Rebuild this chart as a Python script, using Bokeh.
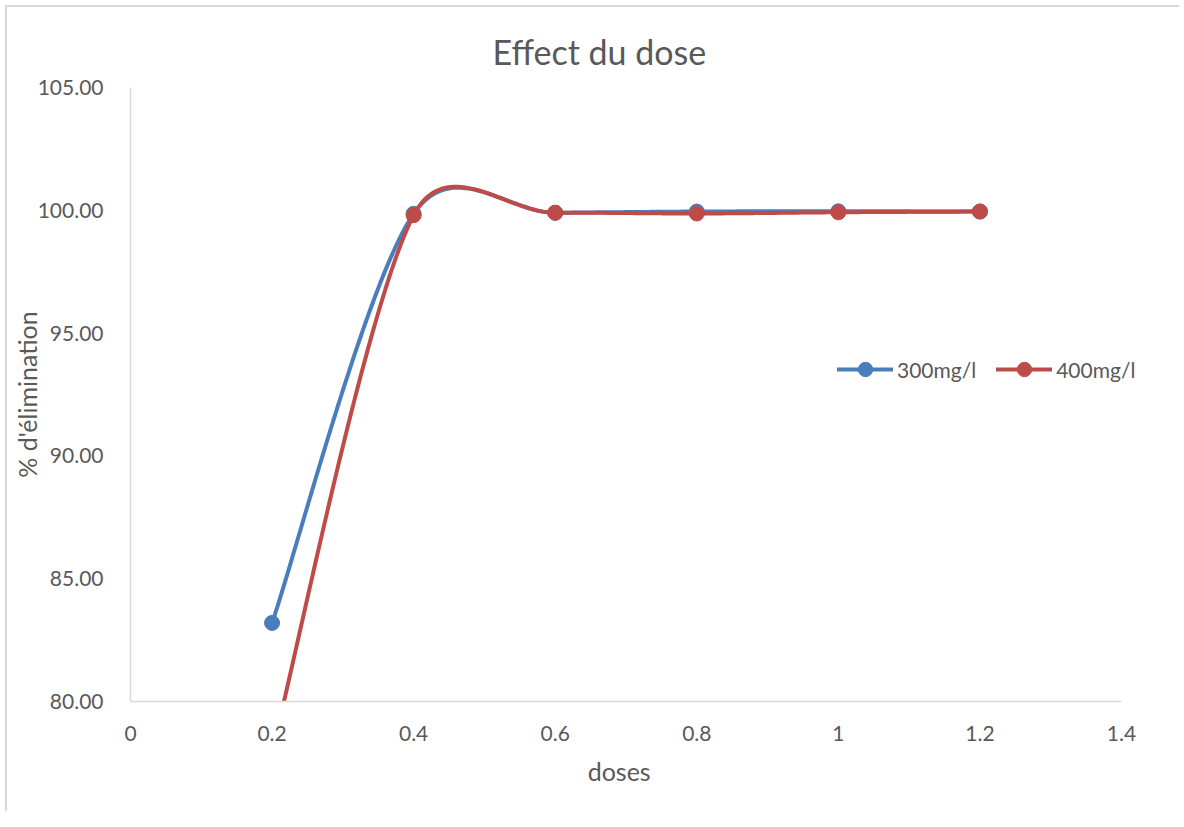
import numpy as np
from bokeh.plotting import figure
from bokeh.models import (Legend, LegendItem, SingleIntervalTicker, CustomJSTickFormatter,
                          NumeralTickFormatter)
from bokeh.embed import file_html
from bokeh.resources import INLINE

# ---- data ----
doses = [0.2, 0.4, 0.6, 0.8, 1.0, 1.2]
s300 = [83.2, 99.86, 99.9, 99.95, 99.96, 99.95]
s400 = [78.0, 99.80, 99.9, 99.87, 99.92, 99.95]
series_names = ["300mg/l", "400mg/l"]
colors = ["#4A7EBB", "#BE4B48"]
x_ticks_end = 1.4
y_min, y_max = 80, 105

FONT = "Lato"
TXT = "#595959"

# layout (pixels)
BL, BR, BT, BB = 123, 14, 80, 110
AXIS_PX = 991                      # length of the drawn x axis
FRAME_W, FRAME_H = 1035, 614
SX = AXIS_PX / x_ticks_end
SY = FRAME_H / (y_max - y_min)
x_end = FRAME_W / SX


def smooth(xs, ys, n=60):
    P = np.column_stack([np.asarray(xs, float) * SX, np.asarray(ys, float) * SY])
    N = len(P)
    out = []
    for i in range(N - 1):
        p0 = P[i - 1] if i > 0 else P[i]
        p1, p2 = P[i], P[i + 1]
        p3 = P[i + 2] if i + 2 < N else P[i + 1]
        d12 = np.linalg.norm(p2 - p1)
        t1 = (p2 - p0) / 6.0
        t2 = (p3 - p1) / 6.0
        cap = 0.5 * d12
        if np.linalg.norm(t1) > cap:
            t1 = t1 * cap / np.linalg.norm(t1)
        if np.linalg.norm(t2) > cap:
            t2 = t2 * cap / np.linalg.norm(t2)
        c1, c2 = p1 + t1, p2 - t2
        t = np.linspace(0, 1, n)[:, None]
        b = (1 - t) ** 3 * p1 + 3 * (1 - t) ** 2 * t * c1 + 3 * (1 - t) * t ** 2 * c2 + t ** 3 * p2
        out.append(b if i == 0 else b[1:])
    B = np.vstack(out)
    return B[:, 0] / SX, B[:, 1] / SY


p = figure(frame_width=FRAME_W, frame_height=FRAME_H, x_range=(0, x_end), y_range=(y_min, y_max),
           output_backend="svg", toolbar_location=None,
           min_border_left=BL, min_border_right=BR, min_border_top=BT, min_border_bottom=BB)
p.styles = {"border-left": "2px solid #D9D9D9", "border-top": "2px solid #D9D9D9",
            "margin-left": "5px", "margin-top": "5px"}
p.outline_line_color = None
p.grid.visible = False

p.title.text = "Effect du dose"
p.title.align = "left"
p.title.offset = 362
p.title.text_font = FONT
p.title.text_font_size = "34px"
p.title.text_font_style = "normal"
p.title.text_color = TXT
p.title.standoff = 31

for ax in (p.xaxis[0], p.yaxis[0]):
    ax.axis_line_color = "#D9D9D9"
    ax.axis_line_width = 1.5
    ax.major_tick_line_color = None
    ax.minor_tick_line_color = None
    ax.major_label_text_font = FONT
    ax.major_label_text_font_size = "21px"
    ax.major_label_text_color = TXT
    ax.axis_label_text_font = FONT
    ax.axis_label_text_font_size = "25px"
    ax.axis_label_text_font_style = "normal"
    ax.axis_label_text_color = TXT

p.xaxis.bounds = (0, x_ticks_end + 1e-9)
p.xaxis.ticker = SingleIntervalTicker(interval=0.2)
p.xaxis.formatter = CustomJSTickFormatter(code="return String(Math.round(tick*10)/10);")
p.xaxis.major_label_standoff = 18
# trailing no-break spaces centre the word over the drawn axis rather than the wider frame
p.xaxis.axis_label = "doses" + "\u00a0" * 9
p.xaxis.axis_label_standoff = 12

p.yaxis.ticker = SingleIntervalTicker(interval=5)
p.yaxis.formatter = NumeralTickFormatter(format="0.00")
p.yaxis.major_label_standoff = 21
p.yaxis.axis_label = "% d'élimination"
p.yaxis.axis_label_standoff = -7

items = []
for name, ys, c in zip(series_names, [s300, s400], colors):
    sx_, sy_ = smooth(doses, ys)
    r1 = p.line(sx_, sy_, line_color=c, line_width=4, line_cap="round")
    r2 = p.scatter(doses, ys, size=15, fill_color=c, line_color=c)
    items.append(LegendItem(label=name, renderers=[r1, r2]))

legend = Legend(items=items, orientation="horizontal", location=(707, 314),
                label_text_font=FONT, label_text_font_size="21px", label_text_color=TXT,
                glyph_width=56, glyph_height=36, spacing=20, label_standoff=4,
                border_line_color=None, background_fill_alpha=0, padding=4, margin=0)
p.add_layout(legend, "center")

open("out.html", "w").write(file_html(p, INLINE))
